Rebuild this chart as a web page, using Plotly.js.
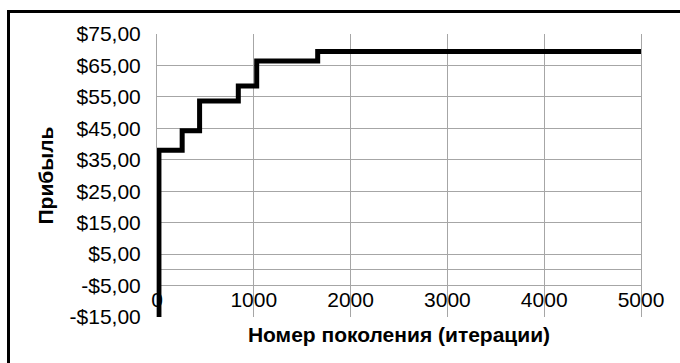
<!DOCTYPE html>
<html>
<head>
<meta charset="utf-8">
<script src="https://cdn.plot.ly/plotly-3.0.1.min.js"></script>
<style>
html,body{margin:0;padding:0;background:#fff;overflow:hidden;}
#wrap{position:relative;width:680px;height:363px;overflow:hidden;}
#chart{width:680px;height:363px;}
#frame{position:absolute;left:7px;top:10px;width:800px;height:500px;border-left:3px solid #000;border-top:3px solid #000;pointer-events:none;}
</style>
</head>
<body>
<div id="wrap">
<div id="chart"></div>
<div id="frame"></div>
</div>
<script>
// Generation numbers where the best profit changes (step points)
var generations = [15, 20, 260, 440, 840, 1030, 1660, 5000];
// Best profit at each step
var profit = [-15, 38, 44.2, 53.7, 58.5, 66.4, 69.4, 69.4];

// Axis tick values and labels
var yTickVals = [-15, -5, 5, 15, 25, 35, 45, 55, 65, 75];
var yTickText = ['-$15,00', '-$5,00', '$5,00', '$15,00', '$25,00', '$35,00', '$45,00', '$55,00', '$65,00', '$75,00'];
var xTickVals = [0, 1000, 2000, 3000, 4000, 5000];
var xTickText = ['0', '1000', '2000', '3000', '4000', '5000'];

var xTitle = 'Номер поколения (итерации)';
var yTitle = 'Прибыль';

var trace = {
  x: generations,
  y: profit,
  type: 'scatter',
  mode: 'lines',
  line: {color: '#000000', width: 5, shape: 'hv'},
  xaxis: 'x',
  yaxis: 'y',
  hoverinfo: 'none',
  cliponaxis: false
};
// invisible copy so that the label axis (x2) is drawn
var labelTrace = {
  x: generations,
  y: profit,
  type: 'scatter',
  mode: 'lines',
  line: {color: 'rgba(0,0,0,0)', width: 0},
  xaxis: 'x2',
  yaxis: 'y',
  hoverinfo: 'none'
};

var fontFam = 'Liberation Sans, Arial, sans-serif';
var gridCol = '#a6a6a6';
var fs = 21;

var layout = {
  width: 680,
  height: 363,
  margin: {l: 157, r: 39, t: 34, b: 46},
  paper_bgcolor: '#ffffff',
  plot_bgcolor: '#ffffff',
  showlegend: false,
  font: {family: fontFam, color: '#000000', size: fs},
  xaxis: {
    range: [0, 5000],
    tickmode: 'array',
    tickvals: xTickVals,
    ticktext: xTickText,
    showgrid: true,
    gridcolor: gridCol,
    gridwidth: 1,
    zeroline: false,
    showline: false,
    ticks: '',
    showticklabels: false,
    title: {text: xTitle, font: {family: fontFam, size: fs, color: '#000', weight: 'bold'}, standoff: 10},
    automargin: false
  },
  xaxis2: {
    overlaying: 'x',
    anchor: 'free',
    position: 0.113,
    range: [0, 5000],
    tickmode: 'array',
    tickvals: xTickVals,
    ticktext: xTickText,
    showgrid: false,
    zeroline: false,
    showline: false,
    ticks: '',
    tickfont: {family: fontFam, size: fs, color: '#000'},
    automargin: false
  },
  yaxis: {
    range: [-15, 75],
    tickmode: 'array',
    tickvals: yTickVals,
    ticktext: yTickText,
    showgrid: true,
    gridcolor: gridCol,
    gridwidth: 1,
    zeroline: true,
    zerolinecolor: gridCol,
    zerolinewidth: 1,
    showline: true,
    mirror: true,
    linecolor: gridCol,
    linewidth: 1,
    ticks: '',
    ticklabelstandoff: 11,
    tickfont: {family: fontFam, size: fs, color: '#000'},
    title: {text: yTitle, font: {family: fontFam, size: fs, color: '#000', weight: 'bold'}, standoff: 10},
    automargin: false
  }
};

Plotly.newPlot('chart', [trace, labelTrace], layout, {staticPlot: true, displayModeBar: false});
</script>
</body>
</html>
